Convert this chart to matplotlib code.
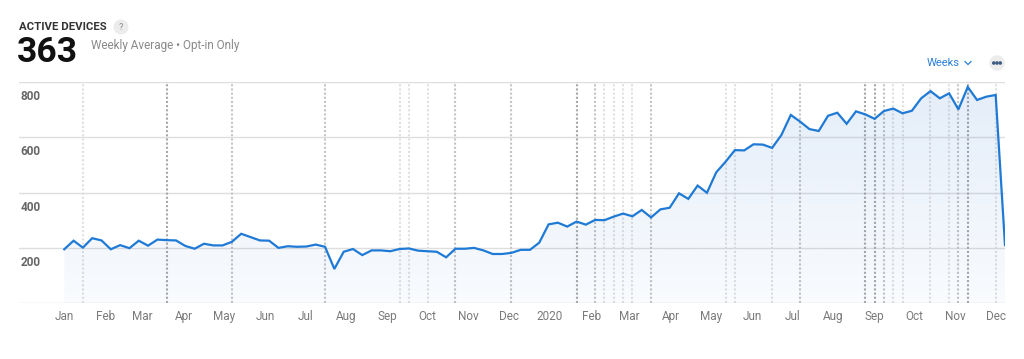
import matplotlib
matplotlib.use("Agg")
import matplotlib.pyplot as plt
import matplotlib.dates as mdates
from matplotlib.patches import Circle
from matplotlib.lines import Line2D
import numpy as np
import pandas as pd

plt.rcParams['font.family'] = ['Roboto', 'DejaVu Sans']

# weekly active devices, first week of Jan 2019 to Dec 2020
active_devices = [
    195, 226, 201, 235, 227, 195, 210, 199, 226, 208,
    230, 228, 227, 207, 197, 215, 209, 209, 222, 251,
    239, 227, 226, 200, 206, 204, 205, 212, 204, 124,
    186, 196, 174, 191, 191, 188, 196, 198, 190, 188,
    186, 166, 197, 197, 200, 191, 178, 178, 182, 193,
    193, 219, 285, 291, 277, 295, 284, 301, 300, 313,
    324, 314, 337, 310, 339, 345, 397, 377, 425, 399,
    473, 511, 553, 552, 574, 573, 561, 608, 680, 656,
    629, 622, 677, 688, 648, 693, 682, 666, 694, 703,
    686, 695, 740, 766, 740, 758, 700, 781, 734, 746,
    752, 210,
]
first_week = '2019-01-01'

# annotation markers: week index and how many events fall on that week
event_weeks = [2, 11, 18, 28, 36, 37, 39, 42, 48, 55, 57, 58, 59, 60, 61, 63,
               71, 72, 76, 79, 86, 87, 88, 89, 90, 93, 95, 96, 97, 100]
event_counts = [1, 3, 2, 2, 1, 1, 1, 2, 2, 3, 2, 1, 1, 1, 1, 2,
                1, 1, 1, 2, 3, 3, 2, 1, 1, 1, 1, 2, 3, 1]

y_ticks = [200, 400, 600, 800]
month_labels = ['Jan', 'Feb', 'Mar', 'Apr', 'May', 'Jun', 'Jul', 'Aug', 'Sep', 'Oct', 'Nov', 'Dec',
                '2020', 'Feb', 'Mar', 'Apr', 'May', 'Jun', 'Jul', 'Aug', 'Sep', 'Oct', 'Nov', 'Dec']

title = 'ACTIVE DEVICES'
headline = '363'
subtitle = 'Weekly Average \u2022 Opt-in Only'

W, H = 1024, 359
fig = plt.figure(figsize=(W / 100, H / 100), dpi=100)
ax = fig.add_axes([19 / W, 55.7 / H, 986 / W, 221.6 / H])

dates = pd.date_range(first_week, periods=len(active_devices), freq='7D')
values = np.array(active_devices)
left = dates[0] - pd.Timedelta(days=34)

ax.set_ylim(0, 800)
ax.set_xlim(left, dates[-1])

# gridlines
for v in [0] + y_ticks:
    ax.axhline(v, color='#dedede', lw=1, zorder=1)
    if v:
        ax.annotate(str(v), xy=(0, v), xycoords=('axes fraction', 'data'),
                    xytext=(1, -10.5), textcoords='offset points',
                    ha='left', va='center', fontsize=8.5, fontweight='bold', color='#666666')

# event markers
shade = {1: '#e0e0e0', 2: '#c4c4c4', 3: '#a8a8a8'}
for w, c in zip(event_weeks, event_counts):
    ax.axvline(dates[w], color=shade[c], lw=1.5, ls=(0, (1, 1)), zorder=2)

# gradient fill under the line
poly = ax.fill_between(dates, values, 0, color='none', zorder=3)
x0, x1 = mdates.date2num(left), mdates.date2num(dates[-1])
grad = np.zeros((256, 1, 4))
grad[:, 0, 0] = 40 / 255
grad[:, 0, 1] = 115 / 255
grad[:, 0, 2] = 205 / 255
grad[:, 0, 3] = np.linspace(0.13, 0.03, 256)
img = ax.imshow(grad, extent=[x0, x1, 0, 800], origin='upper', aspect='auto', zorder=3)
img.set_clip_path(poly.get_paths()[0], transform=ax.transData)

ax.plot(dates, values, color='#1f7ad6', lw=1.6, zorder=4, solid_joinstyle='miter')

# x axis labels at month starts
months = pd.date_range('2019-01-01', periods=len(month_labels), freq='MS')
ax.set_xticks(months)
ax.set_xticklabels(month_labels, fontsize=8.5, color='#7a7a7a')
ax.tick_params(axis='x', length=0, pad=5)
ax.set_yticks([])
for s in ax.spines.values():
    s.set_visible(False)
ax.set_xlim(left, dates[-1])
ax.set_ylim(0, 800)

# header
fig.text(19 / W, 1 - 27 / H, title, fontsize=8.2, fontweight='bold', color='#333333', va='center')
fig.text(17 / W, 1 - 52 / H, headline, fontsize=25.5, fontweight='bold', color='#111111', va='center')
fig.text(91 / W, 1 - 45 / H, subtitle, fontsize=8.5, color='#8a8a8a', va='center')

inch = fig.dpi_scale_trans
fig.add_artist(Circle((121 / 100, (H - 27) / 100), 0.068, color='#ececec', transform=inch))
fig.text(121 / W, 1 - 27 / H, '?', fontsize=6.5, color='#8a8a8a', ha='center', va='center')

fig.text(927 / W, 1 - 63 / H, 'Weeks', fontsize=8, color='#2a7fd8', va='center')
fig.add_artist(Line2D([965 / 100, 968 / 100, 971 / 100], [(H - 61.5) / 100, (H - 64.5) / 100, (H - 61.5) / 100],
                      color='#2a7fd8', lw=0.9, transform=inch))

fig.add_artist(Circle((997 / 100, (H - 63) / 100), 0.07, color='#ececec', transform=inch))
for dx in (-3.2, 0, 3.2):
    fig.add_artist(Circle(((997 + dx) / 100, (H - 63) / 100), 0.011, color='#3d5a80', transform=inch))

fig.savefig('out.png', dpi=100)
